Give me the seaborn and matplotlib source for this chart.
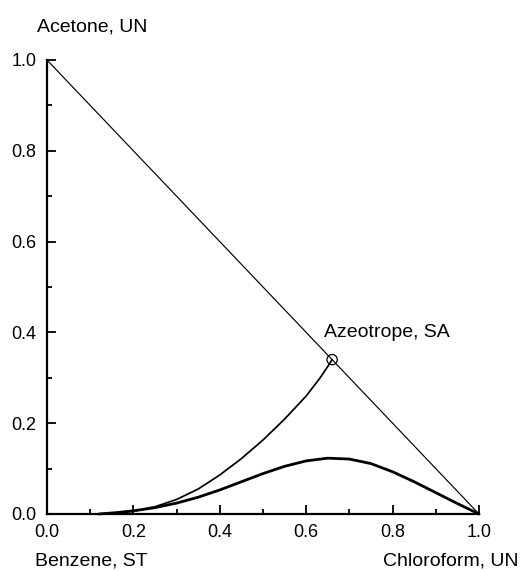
import numpy as np
import pandas as pd
import matplotlib
matplotlib.use("Agg")
import matplotlib.pyplot as plt
from matplotlib.ticker import MultipleLocator, StrMethodFormatter
import seaborn as sns

# Data
diag_x = [0.0, 1.0]
diag_y = [1.0, 0.0]

thin_x = [0.12, 0.16, 0.20, 0.25, 0.30, 0.35, 0.40, 0.45, 0.50, 0.55, 0.60, 0.63, 0.65, 0.66]
thin_y = [0.0, 0.002, 0.006, 0.016, 0.032, 0.055, 0.086, 0.122, 0.163, 0.209, 0.260, 0.297, 0.325, 0.34]

thick_x = [0.12, 0.16, 0.20, 0.25, 0.30, 0.35, 0.40, 0.45, 0.50, 0.55, 0.60, 0.65, 0.70, 0.75, 0.80, 0.85, 0.90, 0.95, 1.00]
thick_y = [0.0, 0.003, 0.007, 0.014, 0.024, 0.037, 0.053, 0.071, 0.089, 0.105, 0.117, 0.123, 0.121, 0.111, 0.093, 0.071, 0.047, 0.023, 0.0]

azeo_x = [0.66]
azeo_y = [0.34]

major_ticks = [0.0, 0.2, 0.4, 0.6, 0.8, 1.0]

labels = {
    "top": "Acetone, UN",
    "bl": "Benzene, ST",
    "br": "Chloroform, UN",
    "az": "Azeotrope, SA",
}

sns.set_theme(style="ticks")
plt.rcParams["font.family"] = ["Liberation Sans", "DejaVu Sans"]

W, H = 525, 571
fig = plt.figure(figsize=(W / 100, H / 100), dpi=100)
ax = fig.add_axes([47 / W, 57 / H, 432 / W, 454 / H])

sns.lineplot(x=diag_x, y=diag_y, ax=ax, color="black", lw=0.85, sort=False, estimator=None)
sns.lineplot(x=thin_x, y=thin_y, ax=ax, color="black", lw=1.25, sort=False, estimator=None)
sns.lineplot(x=thick_x, y=thick_y, ax=ax, color="black", lw=2.0, sort=False, estimator=None)
sns.scatterplot(x=azeo_x, y=azeo_y, ax=ax, marker="o", s=55, facecolor="none",
                edgecolor="black", linewidth=0.9, zorder=5)

for line in ax.lines:
    line.set_clip_on(False)
    line.set_solid_joinstyle("round")
for c in ax.collections:
    c.set_clip_on(False)

ax.set_xlim(0, 1)
ax.set_ylim(0, 1)
ax.set_xticks(major_ticks)
ax.set_yticks(major_ticks)
ax.xaxis.set_minor_locator(MultipleLocator(0.1))
ax.yaxis.set_minor_locator(MultipleLocator(0.1))
ax.xaxis.set_major_formatter(StrMethodFormatter("{x:.1f}"))
ax.yaxis.set_major_formatter(StrMethodFormatter("{x:.1f}"))

sns.despine(ax=ax)
for s in ["left", "bottom"]:
    ax.spines[s].set_linewidth(1.6)
    ax.spines[s].set_color("black")

ax.tick_params(which="major", direction="in", length=6.5, width=1.3, color="black",
               labelsize=13, labelcolor="black")
ax.tick_params(axis="x", which="major", pad=7.5)
ax.tick_params(axis="y", which="major", pad=7.5)
ax.tick_params(which="minor", direction="in", length=3.6, width=1.3, color="black")
ax.set_xlabel("")
ax.set_ylabel("")
ax.grid(False)

def ftext(px, py, s, **kw):
    fig.text(px / W, 1 - py / H, s, fontsize=14, color="black", va="baseline", **kw)

ftext(37, 31, labels["top"], ha="left")
ftext(35, 566, labels["bl"], ha="left")
ftext(383, 565, labels["br"], ha="left")
ftext(324, 337, labels["az"], ha="left")

fig.savefig("out.png", dpi=100)
